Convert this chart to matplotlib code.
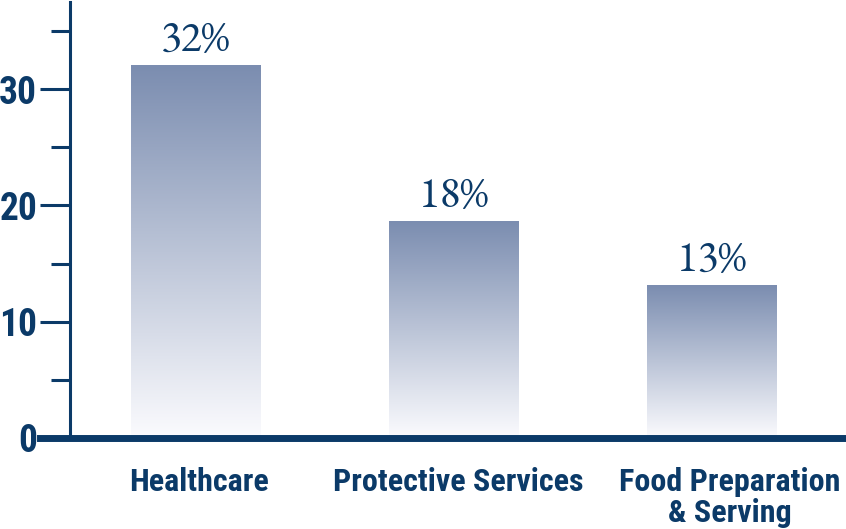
import matplotlib
matplotlib.use("Agg")
import matplotlib.pyplot as plt
import matplotlib.transforms as mtransforms
import numpy as np
from matplotlib.colors import LinearSegmentedColormap

categories = ["Healthcare", "Protective Services", "Food Preparation\n& Serving"]
values = [32.0, 18.6, 13.1]
value_labels = ["32%", "18%", "13%"]
major_ticks = [0, 10, 20, 30]
minor_ticks = [5, 15, 25, 35]

navy = "#0b3a68"
bar_top = "#7b8db0"
bar_bottom = "#fbfbfe"
sans = ["Roboto Condensed", "DejaVu Sans"]
serif = ["EB Garamond", "DejaVu Serif"]

fig = plt.figure(figsize=(8.46, 5.29), dpi=100)
ax = fig.add_axes([70 / 846, 1 - 438 / 529, 776 / 846, 436 / 529])

x = np.arange(len(categories))
bars = ax.bar(x, values, width=0.5, color="none", edgecolor="none")

# gradient fill: dark at the top of each bar, fading to white at the base
cmap = LinearSegmentedColormap.from_list("fade", [bar_bottom, bar_top])
grad = np.linspace(0, 1, 256).reshape(-1, 1)
for b in bars:
    x0, w, h = b.get_x(), b.get_width(), b.get_height()
    ax.imshow(grad, cmap=cmap, origin="lower", aspect="auto",
              extent=(x0, x0 + w, 0, h), zorder=2)

for xi, v, lab in zip(x, values, value_labels):
    ax.annotate(lab, (xi, v), xytext=(0, 2), textcoords="offset points",
                ha="center", va="bottom", fontsize=31, color=navy,
                family=serif)

ax.set_xlim(-0.486, 2.52)
ax.set_ylim(0, 37.5)

for s in ["top", "right", "bottom"]:
    ax.spines[s].set_visible(False)
ax.spines["left"].set_color(navy)
ax.spines["left"].set_linewidth(2.2)

# thick baseline that runs out past the y axis
ax.axhline(0, xmin=-30 / 776, xmax=1, color=navy, lw=5, clip_on=False, zorder=5)

ax.set_yticks(major_ticks)
ax.set_yticks(minor_ticks, minor=True)
ax.tick_params(axis="y", which="major", length=21.6, width=2.2, color=navy, pad=2)
ax.tick_params(axis="y", which="minor", length=13.7, width=2.2, color=navy)
for t in ax.get_yticklabels():
    t.set_fontfamily(sans)
    t.set_fontweight("bold")
    t.set_fontsize(27)
    t.set_color(navy)

ax.set_xticks(x)
ax.set_xticklabels(categories)
ax.tick_params(axis="x", length=0, pad=21)
# labels in the original sit a little right of the bar centres
nudges = [4, 5, 18]
for t, dx in zip(ax.get_xticklabels(), nudges):
    t.set_fontfamily(sans)
    t.set_fontweight("bold")
    t.set_fontsize(23)
    t.set_color(navy)
    t.set_linespacing(1.05)
    t.set_transform(t.get_transform() + mtransforms.ScaledTranslation(dx / 100, 0, fig.dpi_scale_trans))

fig.savefig("out.png", dpi=100)
